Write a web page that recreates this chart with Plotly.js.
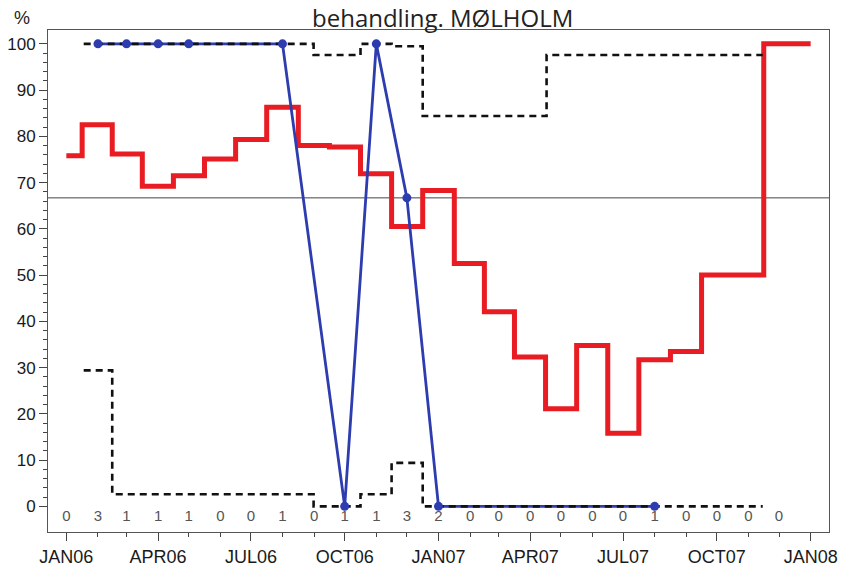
<!DOCTYPE html>
<html><head><meta charset="utf-8">
<script src="https://cdn.plot.ly/plotly-3.0.1.min.js"></script>
<style>body{margin:0;background:#fff}</style>
</head><body><div id="chart" style="width:846px;height:571px"></div>
<script>
// ---- data ----
const months = ['2006-01-01','2006-02-01','2006-03-01','2006-04-01','2006-05-01','2006-06-01',
  '2006-07-01','2006-08-01','2006-09-01','2006-10-01','2006-11-01','2006-12-01',
  '2007-01-01','2007-02-01','2007-03-01','2007-04-01','2007-05-01','2007-06-01',
  '2007-07-01','2007-08-01','2007-09-01','2007-10-01','2007-11-01','2007-12-01'];
const counts = [0,3,1,1,1,0,0,1,0,1,1,3,2,0,0,0,0,0,0,1,0,0,0,0];

const redMonths = months.concat(['2008-01-01']);
const redValues = [75.8,82.5,76.2,69.2,71.5,75.1,79.3,86.3,78.0,77.7,71.9,60.5,
  68.3,52.5,42.1,32.3,21.1,34.8,15.8,31.7,33.5,50.0,50.0,100,100];

const obsMonths = ['2006-02-01','2006-03-01','2006-04-01','2006-05-01','2006-08-01',
  '2006-10-01','2006-11-01','2006-12-01','2007-01-01','2007-08-01'];
const obsPct     = [100,100,100,100,100,0,100,66.7,0,0];
const upperLimit = [100,100,100,100,100,97.6,100,99.5,84.4,97.6];
const lowerLimit = [29.4,2.6,2.6,2.6,2.6,0,2.6,9.4,0,0];
const target = 66.7;

const tickMonths = ['2006-01-01','2006-04-01','2006-07-01','2006-10-01','2007-01-01',
  '2007-04-01','2007-07-01','2007-10-01','2008-01-01'];
const tickLabels = ['JAN06','APR06','JUL06','OCT06','JAN07','APR07','JUL07','OCT07','JAN08'];

const titleText = 'behandling. MØLHOLM';

// ---- helpers ----
function ms(d){ return Date.parse(d + 'T00:00:00Z'); }
// centred step: change half-way between points, ends extended by half interval
function stepCenter(xs, ys){
  const t = xs.map(ms), n = t.length, X = [], Y = [];
  X.push(t[0] - (t[1]-t[0])/2); Y.push(ys[0]);
  for (let i = 0; i < n-1; i++){
    const m = (t[i]+t[i+1])/2;
    X.push(m, m); Y.push(ys[i], ys[i+1]);
  }
  X.push(t[n-1] + (t[n-1]-t[n-2])/2); Y.push(ys[n-1]);
  return {x: X, y: Y};
}

const up = stepCenter(obsMonths, upperLimit);
const lo = stepCenter(obsMonths, lowerLimit);
const blue = 'rgb(45,60,175)';
const dashStyle = {color:'#111', width:2.6, dash:'7px,5px'};

const traces = [
  {x: redMonths.map(ms), y: redValues, mode:'lines', line:{shape:'hvh', color:'rgb(232,28,34)', width:5}, hoverinfo:'skip'},
  {x: obsMonths.map(ms), y: obsPct, mode:'lines', line:{color:blue, width:2.8}, hoverinfo:'skip'},
  {x: up.x, y: up.y, mode:'lines', line:dashStyle, hoverinfo:'skip'},
  {x: lo.x, y: lo.y, mode:'lines', line:dashStyle, hoverinfo:'skip'},
  {x: obsMonths.map(ms), y: obsPct, mode:'markers', marker:{color:blue, size:9}, hoverinfo:'skip'},
  {x: months.map(ms), y: months.map(() => -2.4), mode:'text', text: counts.map(String),
   textfont:{family:'Liberation Sans, Arial, sans-serif', size:15, color:'#555'}, hoverinfo:'skip'}
];

const minorY = [];
for (let v = 0; v <= 100; v += 2) minorY.push(v);

const layout = {
  width:846, height:571,
  margin:{l:48, r:17, t:30, b:39},
  paper_bgcolor:'#fff', plot_bgcolor:'#fff',
  showlegend:false,
  xaxis:{type:'date', range:[ms('2005-12-14'), ms('2008-01-19')],
    tickmode:'array', tickvals: tickMonths.map(ms), ticktext: tickLabels,
    ticks:'outside', ticklen:8, tickwidth:1, tickcolor:'#444',
    minor:{tickmode:'array', tickvals: months.map(ms), ticks:'outside', ticklen:4, tickwidth:1, tickcolor:'#444'},
    showgrid:false, zeroline:false, showline:true, mirror:true, linecolor:'#555', linewidth:1,
    ticklabelstandoff:0,
    tickfont:{family:'Liberation Sans, Arial, sans-serif', size:18, color:'#1a1a1a'}},
  yaxis:{range:[-5.55, 103], tickmode:'linear', tick0:0, dtick:10,
    ticks:'outside', ticklen:8, tickwidth:1, tickcolor:'#444',
    minor:{tickmode:'array', tickvals:minorY, ticks:'outside', ticklen:4, tickwidth:1, tickcolor:'#444'},
    showgrid:false, zeroline:false, showline:true, mirror:true, linecolor:'#555', linewidth:1,
    tickfont:{family:'Liberation Sans, Arial, sans-serif', size:17, color:'#1a1a1a'}},
  shapes:[{type:'line', xref:'paper', x0:0, x1:1, yref:'y', y0:target, y1:target,
    line:{color:'#444', width:1}, layer:'below'}],
  annotations:[
    {text:titleText, xref:'paper', yref:'paper', x:(443-48)/781, y:1+30/502,
     xanchor:'center', yanchor:'top', showarrow:false, borderpad:0,
     font:{family:'Open Sans, sans-serif', size:24, color:'#222'}},
    {text:'%', xref:'paper', yref:'paper', x:-26/781, y:1+12/502,
     xanchor:'center', yanchor:'middle', showarrow:false,
     font:{family:'Liberation Sans, Arial, sans-serif', size:18, color:'#222'}}]
};

Plotly.newPlot('chart', traces, layout, {displayModeBar:false, staticPlot:true});
</script>
</body></html>
